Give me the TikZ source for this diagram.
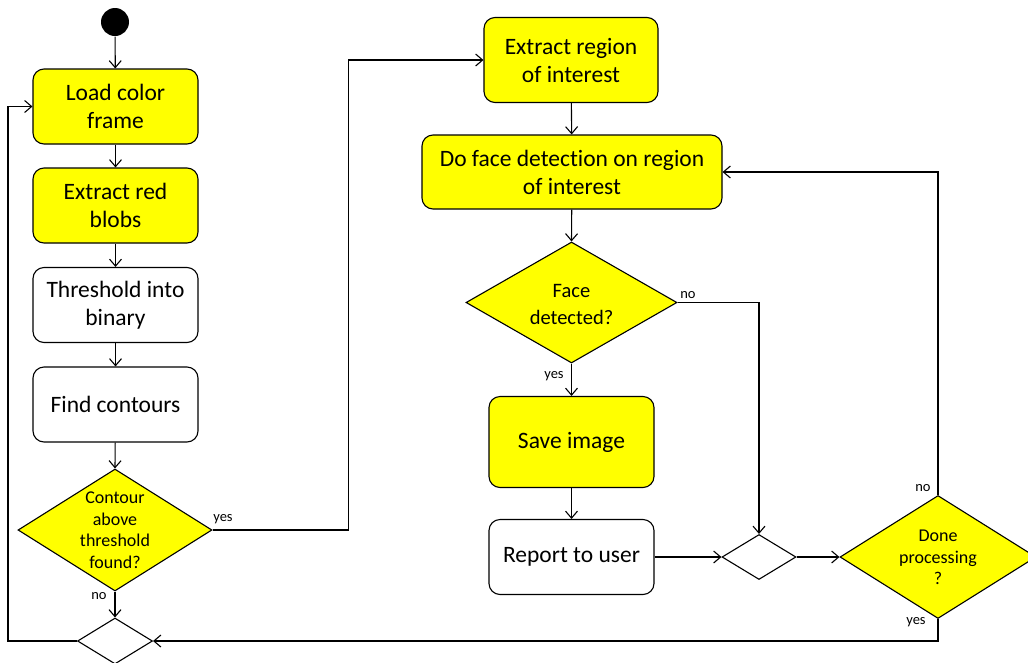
\documentclass[tikz,border=0pt]{standalone}
\usepackage{fontspec}
\setmainfont{Carlito}[Ligatures=NoCommon]
\usetikzlibrary{arrows.meta,shapes.geometric}
\definecolor{actyellow}{RGB}{255,255,0}

\begin{document}
\begin{tikzpicture}[x=1pt,y=-1pt,
  line width=1.1pt,
  arr/.style={-{Straight Barb[length=7pt,width=12pt,line width=1.1pt]}},
  act/.style={draw, rectangle, rounded corners=11pt, align=center, inner sep=0pt,
    font=\fontsize{23.5}{28}\selectfont},
  yact/.style={act, fill=actyellow},
  dec/.style={draw, diamond, inner sep=0pt},
  ydec/.style={dec, fill=actyellow},
  dtext/.style={align=center, inner sep=0pt, font=\fontsize{18}{21.5}\selectfont},
  lbl/.style={inner sep=0pt, font=\fontsize{14.5}{16}\selectfont}]

\useasboundingbox (0,0) rectangle (1028,662);

% left column
\node[circle, fill=black, minimum size=28pt, inner sep=0pt] (start) at (115,22) {};
\node[yact, minimum width=165pt, minimum height=75pt] (load) at (115.5,106.5) {Load color\\frame};
\node[yact, minimum width=165pt, minimum height=75pt] (red) at (115.5,205.5) {Extract red\\blobs};
\node[act, minimum width=165pt, minimum height=75pt] (thr) at (115.5,305) {Threshold into\\binary};
\node[act, minimum width=165pt, minimum height=75pt] (cont) at (115.5,404.5) {Find contours};
\node[ydec, minimum width=194pt, minimum height=122pt] (found) at (115,530) {};
\node[dtext] (foundt) at (115,530) {Contour\\above\\threshold\\found?};
\node[dec, minimum width=75pt, minimum height=46pt] (m1) at (115,641) {};

% right column
\node[yact, minimum width=174pt, minimum height=85pt] (roi) at (571,60) {Extract region\\of interest};
\node[yact, minimum width=300pt, minimum height=74pt] (fd) at (572,172) {Do face detection on region\\of interest};
\node[ydec, minimum width=211pt, minimum height=121pt] (face) at (571.5,302.5) {};
\node[dtext, font=\fontsize{20.5}{27}\selectfont] (facet) at (571.5,304.5) {Face\\detected?};
\node[yact, minimum width=165pt, minimum height=91pt] (save) at (571.5,442) {Save image};
\node[act, minimum width=165pt, minimum height=75pt] (report) at (571.5,557) {Report to user};
\node[dec, minimum width=74pt, minimum height=45pt] (m2) at (759,557) {};
\node[ydec, minimum width=196pt, minimum height=123pt] (done) at (938,557) {};
\node[dtext] (donet) at (938,557.5) {Done\\processing\\?};

% flow
\draw[arr] (start) -- (load);
\draw[arr] (load) -- (red);
\draw[arr] (red) -- (thr);
\draw[arr] (thr) -- (cont);
\draw[arr] (cont) -- (found.north);
\draw[arr] (found.south) -- (m1.north);
\draw[arr] (m1.west) -- ++(-69,0) |- (load.west);
\draw[arr] (found.east) -- ++(136,0) |- (roi.west);
\draw[arr] (roi) -- (fd);
\draw[arr] (fd) -- (face.north);
\draw[arr] (face.south) -- (save);
\draw[arr] (face.east) -| (m2.north);
\draw[arr] (save) -- (report);
\draw[arr] (report) -- (m2.west);
\draw[arr] (m2.east) -- (done.west);
\draw[arr] (done.north) |- (fd.east);
\draw[arr] (done.south) |- (m1.east);

% branch labels
\node[lbl] (l1) at (99,596) {no};
\node[lbl] (l2) at (223,519) {yes};
\node[lbl] (l3) at (688,295) {no};
\node[lbl] (l4) at (554,376) {yes};
\node[lbl] (l5) at (923,488) {no};
\node[lbl] (l6) at (916,622) {yes};
\end{tikzpicture}
\end{document}
